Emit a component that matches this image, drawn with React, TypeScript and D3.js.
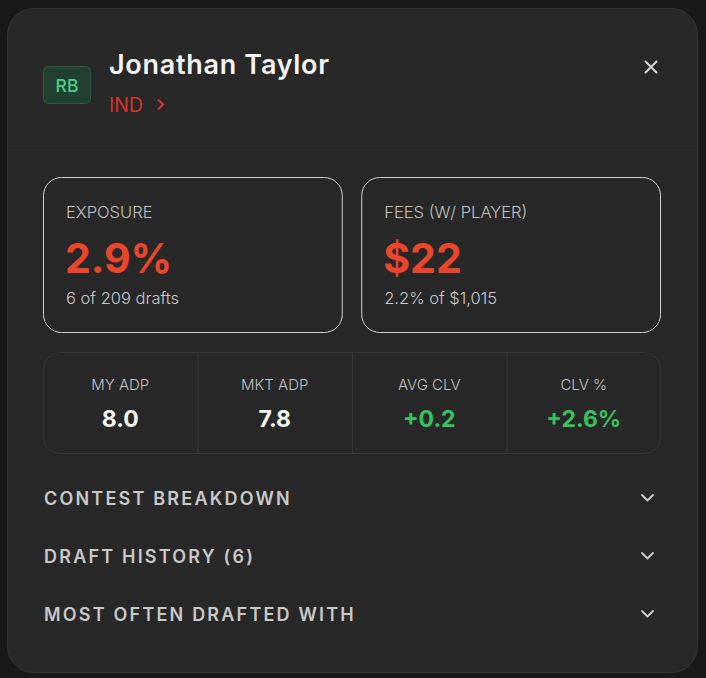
import React from "react";
import * as d3 from "d3";

const playerName = "Jonathan Taylor";
const position = "RB";
const team = "IND";

const summaryLabels = ["EXPOSURE", "FEES (W/ PLAYER)"];
const summaryValues = ["2.9%", "$22"];
const summaryNotes = ["6 of 209 drafts", "2.2% of $1,015"];

const statLabels = ["MY ADP", "MKT ADP", "AVG CLV", "CLV %"];
const statValues = ["8.0", "7.8", "+0.2", "+2.6%"];
const statPositive = [false, false, true, true];

const sections = ["CONTEST BREAKDOWN", "DRAFT HISTORY (6)", "MOST OFTEN DRAFTED WITH"];

const W = 706;
const H = 678;
const font = "Inter, 'Noto Sans', sans-serif";

const App: React.FC = () => {
  // summary boxes
  const boxX = d3.scaleBand<number>().domain(d3.range(summaryLabels.length)).range([43, 661]).paddingInner(0.058);
  // stats strip columns
  const statX = d3.scaleBand<number>().domain(d3.range(statLabels.length)).range([43, 661]);
  // accordion rows
  const rowY = d3.scalePoint<number>().domain(d3.range(sections.length)).range([498, 614]);

  return (
    <svg width={W} height={H} style={{ position: "absolute", left: 0, top: 0 }} fontFamily={font}>
      <rect width={W} height={H} fill="#191919" />
      <rect x={7.5} y={8.5} width={690} height={664} rx={26} fill="#282828" stroke="#343434" />
      <line x1={8} x2={697} y1={146.5} y2={146.5} stroke="#2f2f2f" />

      {/* header */}
      <rect x={43.5} y={66.5} width={47} height={37} rx={5} fill="#22402f" stroke="#2d5a44" />
      <text x={67} y={91.5} textAnchor="middle" fontSize={17.5} fontWeight={500} fill="#45d08f">{position}</text>
      <text x={109} y={74} fontSize={27} fontWeight={600} letterSpacing={0.7} fill="#f4f4f4">{playerName}</text>
      <text x={109} y={112} fontSize={19.5} fill="#d4352c">{team}</text>
      <path d="M158,99.5 l5,5 l-5,5" fill="none" stroke="#d4352c" strokeWidth={2} />
      <path d="M645.5,61.5 l11,11 M656.5,61.5 l-11,11" stroke="#d8d8d8" strokeWidth={2} strokeLinecap="round" />

      {/* summary boxes */}
      {summaryLabels.map((lab, i) => {
        const x = boxX(i)!;
        return (
          <g key={lab}>
            <rect x={x + 0.5} y={177.5} width={boxX.bandwidth() - 1} height={155} rx={18} fill="#282828" stroke="#d0d0d0" />
            <text x={x + 23} y={218} fontSize={16.5} fontWeight={300} fill="#c0c0c0">{lab}</text>
            <text x={x + 22} y={273} fontSize={41} fontWeight={700} fill="#e9462b">{summaryValues[i]}</text>
            <text x={x + 23} y={304} fontSize={16.5} fontWeight={300} fill="#c8c8c8">{summaryNotes[i]}</text>
          </g>
        );
      })}

      {/* stats strip */}
      <rect x={43.5} y={352.5} width={617} height={101} rx={16} fill="#282828" stroke="#383838" />
      {statLabels.map((lab, i) => {
        const x = statX(i)!;
        const cx = x + statX.bandwidth() / 2;
        return (
          <g key={lab}>
            {i > 0 && <line x1={x + 0.5} x2={x + 0.5} y1={353} y2={453} stroke="#383838" />}
            <text x={cx} y={390} textAnchor="middle" fontSize={15} fontWeight={300} fill="#c0c0c0">{lab}</text>
            <text x={cx} y={427} textAnchor="middle" fontSize={23} fontWeight={700} fill={statPositive[i] ? "#35c35f" : "#f6f6f6"}>{statValues[i]}</text>
          </g>
        );
      })}

      {/* accordion sections */}
      {sections.map((s, i) => {
        const y = rowY(i)!;
        return (
          <g key={s}>
            <text x={44} y={y + 7} fontSize={18} fontWeight={600} letterSpacing={2.2} fill="#c8c8c8">{s}</text>
            <path d={`M642,${y - 3} l5.5,5.5 l5.5,-5.5`} fill="none" stroke="#cfcfcf" strokeWidth={1.8} strokeLinecap="round" strokeLinejoin="round" />
          </g>
        );
      })}
    </svg>
  );
};

export default App;
